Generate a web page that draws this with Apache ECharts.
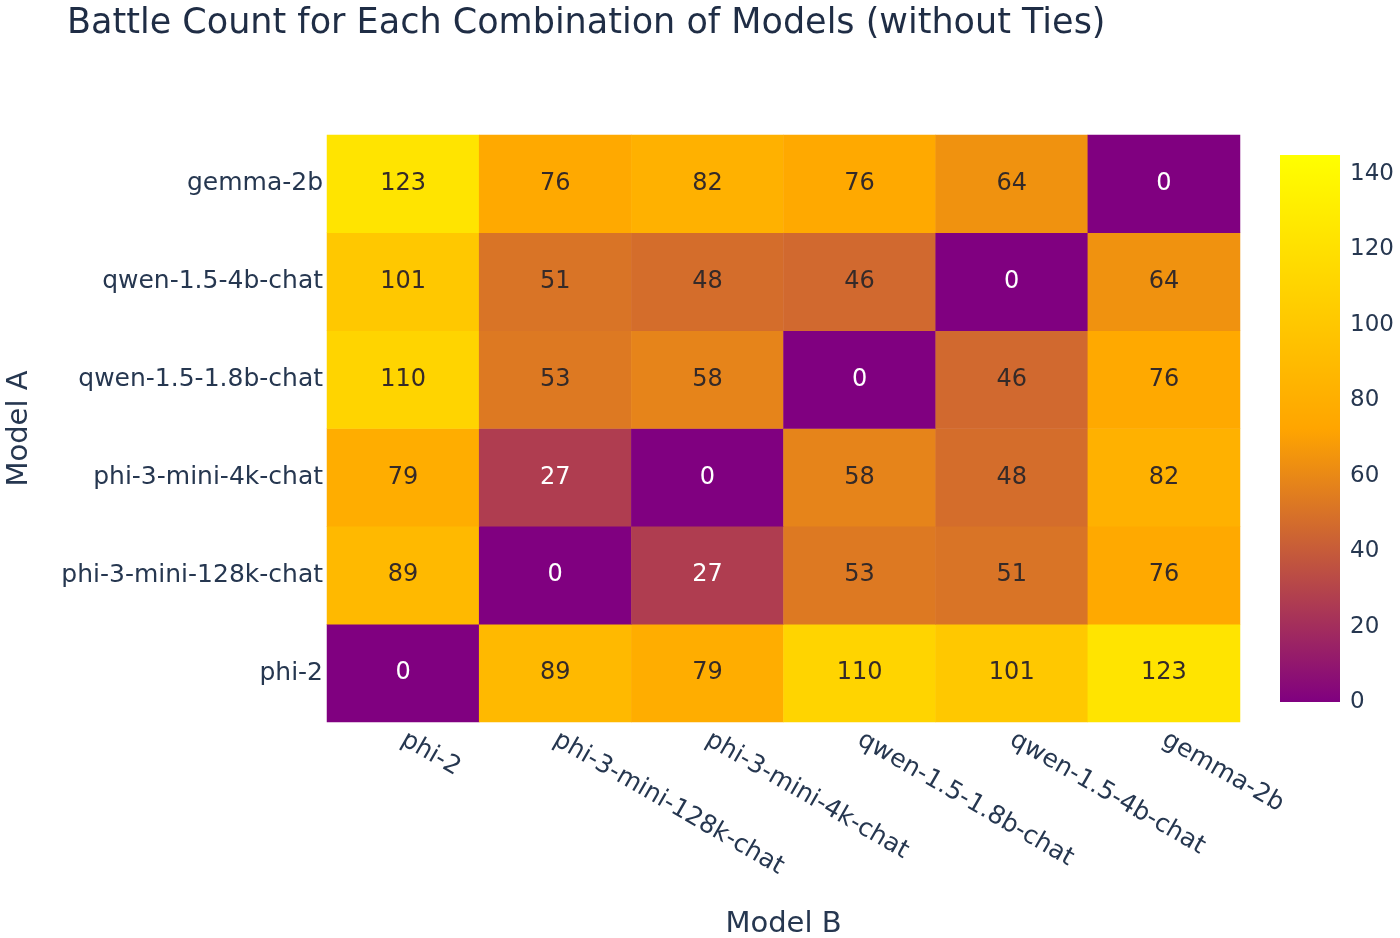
<!DOCTYPE html>
<html><head><meta charset="utf-8">
<script src="https://cdn.jsdelivr.net/npm/echarts@6/dist/echarts.min.js"></script>
<style>html,body{margin:0;padding:0;background:#fff}#c{width:1400px;height:938px}</style>
</head><body><div id="c"></div>
<script>
const modelsB = ['phi-2','phi-3-mini-128k-chat','phi-3-mini-4k-chat','qwen-1.5-1.8b-chat','qwen-1.5-4b-chat','gemma-2b'];
const modelsA = ['phi-2','phi-3-mini-128k-chat','phi-3-mini-4k-chat','qwen-1.5-1.8b-chat','qwen-1.5-4b-chat','gemma-2b'];
// rows follow modelsA (bottom to top), columns follow modelsB
const rowPhi2      = [0, 89, 79, 110, 101, 123];
const rowPhi3_128k = [89, 0, 27, 53, 51, 76];
const rowPhi3_4k   = [79, 27, 0, 58, 48, 82];
const rowQwen18    = [110, 53, 58, 0, 46, 76];
const rowQwen4     = [101, 51, 48, 46, 0, 64];
const rowGemma     = [123, 76, 82, 76, 64, 0];
const rows = [rowPhi2, rowPhi3_128k, rowPhi3_4k, rowQwen18, rowQwen4, rowGemma];
const colorMax = 145;
const colorTicks = [0, 20, 40, 60, 80, 100, 120, 140];

const data = [];
rows.forEach((r, yi) => r.forEach((v, xi) => data.push([xi, yi, v])));

const font = 'DejaVu Sans';
const txt = '#263750';
const scale = ['#800080', '#ffa500', '#ffff00'];

const chart = echarts.init(document.getElementById('c'));
chart.setOption({
  backgroundColor: '#fff',
  textStyle: { fontFamily: font },
  title: { text: 'Battle Count for Each Combination of Models (without Ties)', left: 62, top: 1,
    textStyle: { fontFamily: font, fontSize: 35, fontWeight: 'normal', color: '#1f2d45' } },
  grid: [
    { left: 327, top: 135, width: 913, height: 587, containLabel: false, outerBoundsMode: 'none' },
    { left: 1280, top: 155, width: 60, height: 547, containLabel: false, outerBoundsMode: 'none' }
  ],
  xAxis: [
    { type: 'category', data: modelsB, gridIndex: 0,
      axisLine: { show: false }, axisTick: { show: false }, splitLine: { show: false },
      axisLabel: { rotate: -30, fontSize: 25, color: txt, fontFamily: font, margin: 16 },
      name: 'Model B', nameLocation: 'middle', nameGap: 188,
      nameTextStyle: { fontSize: 29, color: txt, fontFamily: font } },
    { type: 'category', data: [''], gridIndex: 1, show: false }
  ],
  yAxis: [
    { type: 'category', data: modelsA, gridIndex: 0,
      axisLine: { show: false }, axisTick: { show: false }, splitLine: { show: false },
      axisLabel: { fontSize: 25, color: txt, fontFamily: font, margin: 4 },
      name: 'Model A', nameLocation: 'middle', nameGap: 293,
      nameTextStyle: { fontSize: 29, color: txt, fontFamily: font } },
    { type: 'value', gridIndex: 1, min: 0, max: colorMax, interval: 20, position: 'right',
      axisLine: { show: false }, axisTick: { show: false }, splitLine: { show: false },
      axisLabel: { fontSize: 23, color: txt, fontFamily: font, margin: 10,
        formatter: v => colorTicks.includes(v) ? String(v) : '' } }
  ],
  visualMap: { show: false, min: 0, max: colorMax, seriesIndex: 0, inRange: { color: scale } },
  series: [
    { type: 'heatmap', xAxisIndex: 0, yAxisIndex: 0,
      data: data.map(d => ({ value: d, label: { color: d[2] < 35 ? '#ffffff' : '#352a28' } })),
      label: { show: true, fontSize: 24, fontFamily: font, formatter: p => String(p.value[2]) },
      itemStyle: { borderWidth: 0 },
      emphasis: { disabled: true } },
    { type: 'bar', xAxisIndex: 1, yAxisIndex: 1, data: [colorMax], barWidth: '100%', silent: true,
      itemStyle: { color: new echarts.graphic.LinearGradient(0, 1, 0, 0, [
        { offset: 0, color: scale[0] }, { offset: 0.5, color: scale[1] }, { offset: 1, color: scale[2] }]) } }
  ]
});
</script></body></html>
